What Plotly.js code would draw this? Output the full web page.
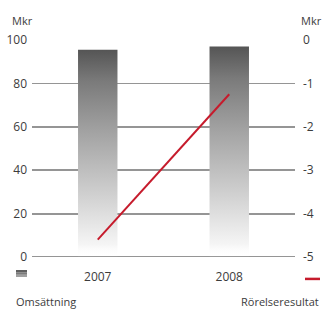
<!DOCTYPE html>
<html>
<head>
<meta charset="utf-8">
<script src="https://cdn.plot.ly/plotly-3.0.1.min.js"></script>
<style>html,body{margin:0;padding:0;background:#fff;}#chart{width:323px;height:310px;}</style>
</head>
<body>
<div id="chart"></div>
<script>
const years = ['2007', '2008'];
const omsattning = [95.5, 97];          // Mkr, left axis
const rorelseresultat = [-4.6, -1.25];  // Mkr, right axis
const leftTicks = [0, 20, 40, 60, 80, 100];
const rightTicks = [0, -1, -2, -3, -4, -5];
const rightTickText = ['0', '-1', '-2', '-3', '-4', '-5'];

const barHalf = 0.15;
const gradScale = [[0, 'rgba(255,255,255,0)'], [0.06, 'rgba(245,245,245,1)'], [0.3, '#d0d0d0'], [0.6, '#a3a3a3'], [0.85, '#7a7a7a'], [1, '#555555']];
const font = 'Open Sans, Liberation Sans, sans-serif';
const textColor = '#3c3c3c';

const traces = [];
years.forEach((y, i) => {
  traces.push({
    type: 'scatter', mode: 'none',
    x: [i - barHalf, i - barHalf, i + barHalf, i + barHalf],
    y: [0, omsattning[i], omsattning[i], 0],
    fill: 'toself',
    fillgradient: {type: 'vertical', colorscale: gradScale, start: 0, stop: omsattning[i]},
    hoverinfo: 'skip', showlegend: false
  });
});
traces.push({
  type: 'scatter', mode: 'lines',
  x: years.map((_, i) => i), y: rorelseresultat,
  yaxis: 'y2',
  line: {color: '#c61b2c', width: 2},
  showlegend: false
});

const layout = {
  width: 323, height: 310,
  margin: {l: 32, r: 28, t: 40, b: 53},
  paper_bgcolor: '#fff', plot_bgcolor: '#fff',
  font: {family: font, size: 12, color: textColor},
  showlegend: false,
  xaxis: {
    range: [-0.5, 1.5], tickvals: years.map((_, i) => i), ticktext: years,
    showgrid: false, zeroline: false, showline: false, ticks: '',
    ticklabelstandoff: 11, fixedrange: true
  },
  yaxis: {
    range: [0, 100], tickvals: leftTicks, showgrid: true, gridcolor: '#959595', gridwidth: 1.8,
    zeroline: false, showline: false, ticks: '', ticklabelstandoff: 4, fixedrange: true
  },
  yaxis2: {
    range: [-5, 0], overlaying: 'y', side: 'right', tickvals: rightTicks, ticktext: rightTickText,
    showgrid: false, zeroline: false, showline: false, ticks: '', ticklabelstandoff: 7, fixedrange: true
  },
  shapes: [
    {type: 'line', xref: 'paper', yref: 'y', x0: 0, x1: 1, y0: 0, y1: 0, layer: 'below', line: {color: '#959595', width: 1.8}},
    {type: 'rect', xref: 'paper', yref: 'paper', x0: -0.0608, x1: -0.019, y0: -0.0599, y1: -0.072, fillcolor: '#5f5f5f', line: {width: 0}},
    {type: 'rect', xref: 'paper', yref: 'paper', x0: -0.0608, x1: -0.019, y0: -0.072, y1: -0.082, fillcolor: '#7b7b7b', line: {width: 0}},
    {type: 'rect', xref: 'paper', yref: 'paper', x0: -0.0608, x1: -0.019, y0: -0.082, y1: -0.0922, fillcolor: '#a0a0a0', line: {width: 0}},
    {type: 'line', xref: 'paper', yref: 'paper', x0: 1.038, x1: 1.095, y0: -0.101, y1: -0.101, line: {color: '#c61b2c', width: 2.5}}
  ],
  annotations: [
    {xref: 'paper', yref: 'paper', x: -0.038, y: 1.092, text: 'Mkr', showarrow: false, xanchor: 'center', yanchor: 'middle', font: {size: 11}},
    {xref: 'paper', yref: 'paper', x: 1.061, y: 1.092, text: 'Mkr', showarrow: false, xanchor: 'center', yanchor: 'middle', font: {size: 11}},
    {xref: 'paper', yref: 'paper', x: -0.068, y: -0.207, text: 'Omsättning', showarrow: false, xanchor: 'left', yanchor: 'middle', font: {size: 11}},
    {xref: 'paper', yref: 'paper', x: 1.099, y: -0.207, text: 'Rörelseresultat', showarrow: false, xanchor: 'right', yanchor: 'middle', font: {size: 11}}
  ]
};

Plotly.newPlot('chart', traces, layout, {staticPlot: true, displayModeBar: false});
</script>
</body>
</html>
